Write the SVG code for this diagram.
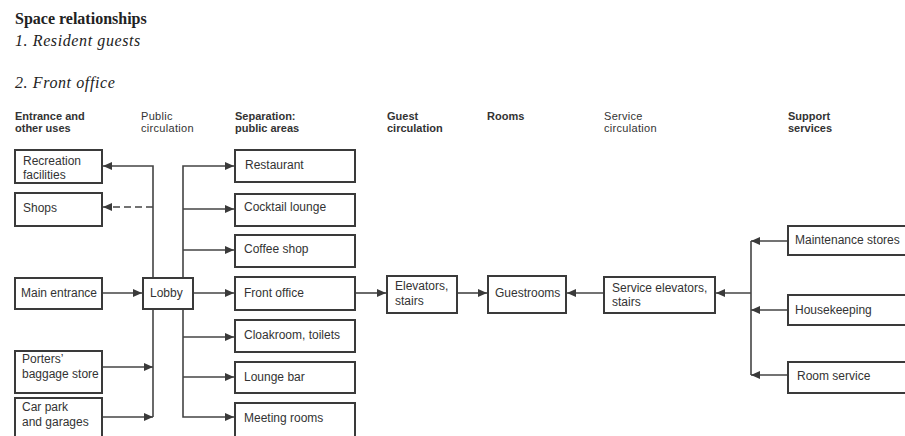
<svg xmlns="http://www.w3.org/2000/svg" width="905" height="436" viewBox="0 0 905 436">
<style>
.box{fill:#fff;stroke:#3a3a3a;stroke-width:2}
.t{font-family:"Liberation Sans",Arial,sans-serif;font-size:12px;fill:#333}
.h{font-family:"Liberation Sans",Arial,sans-serif;font-size:11px;letter-spacing:0.3px;fill:#333}
.hb{font-family:"Liberation Sans",Arial,sans-serif;font-size:11px;font-weight:bold;fill:#333}
.ln{fill:none;stroke:#444;stroke-width:1.6}
.title{font-family:"Liberation Serif","Times New Roman",serif;fill:#222}
</style>
<defs>
<marker id="ah" markerUnits="userSpaceOnUse" markerWidth="9" markerHeight="8" refX="9" refY="4" orient="auto">
<path d="M0,0 L9,4 L0,8 z" fill="#3a3a3a"/>
</marker>
</defs>
<rect width="905" height="436" fill="#fff"/>
<g id="titles">
<text class="title" x="15" y="24" font-size="16" font-weight="bold">Space relationships</text>
<text class="title" x="15" y="46" font-size="16" font-style="italic" letter-spacing="0.6">1.  Resident guests</text>
<text class="title" x="15" y="88" font-size="16" font-style="italic" letter-spacing="0.6">2.  Front office</text>
</g>
<g id="headers">
<text class="hb" x="15" y="120">Entrance and</text>
<text class="hb" x="15" y="132">other uses</text>
<text class="h" x="141" y="120">Public</text>
<text class="h" x="141" y="132">circulation</text>
<text class="hb" x="235" y="120">Separation:</text>
<text class="hb" x="235" y="132">public areas</text>
<text class="hb" x="387" y="120">Guest</text>
<text class="hb" x="387" y="132">circulation</text>
<text class="hb" x="487" y="120">Rooms</text>
<text class="h" x="604" y="120">Service</text>
<text class="h" x="604" y="132">circulation</text>
<text class="hb" x="788" y="120">Support</text>
<text class="hb" x="788" y="132">services</text>
</g>
<g id="connectors">
<path class="ln" d="M153,278 V166 H103" marker-end="url(#ah)"/>
<path class="ln" d="M153,207 H103" stroke-dasharray="7,4" marker-end="url(#ah)"/>
<path class="ln" d="M183,278 V166 H234" marker-end="url(#ah)"/>
<path class="ln" d="M183,209 H234" marker-end="url(#ah)"/>
<path class="ln" d="M183,250 H234" marker-end="url(#ah)"/>
<path class="ln" d="M103,293 H142" marker-end="url(#ah)"/>
<path class="ln" d="M193,293 H234" marker-end="url(#ah)"/>
<path class="ln" d="M183,309 V417 H234" marker-end="url(#ah)"/>
<path class="ln" d="M183,337 H234" marker-end="url(#ah)"/>
<path class="ln" d="M183,377 H234" marker-end="url(#ah)"/>
<path class="ln" d="M153,309 V417"/>
<path class="ln" d="M103,367 H153" marker-end="url(#ah)"/>
<path class="ln" d="M103,417 H153" marker-end="url(#ah)"/>
<path class="ln" d="M356,293 H386" marker-end="url(#ah)"/>
<path class="ln" d="M458,293 H487" marker-end="url(#ah)"/>
<path class="ln" d="M603,293 H567" marker-end="url(#ah)"/>
<path class="ln" d="M751,293 H716" marker-end="url(#ah)"/>
<path class="ln" d="M751,241 V375"/>
<path class="ln" d="M787,241 H751" marker-end="url(#ah)"/>
<path class="ln" d="M787,310 H751" marker-end="url(#ah)"/>
<path class="ln" d="M787,375 H751" marker-end="url(#ah)"/>
</g>
<g id="recreation"><rect class="box" x="15" y="150" width="87" height="33"/><text class="t" x="23" y="165">Recreation</text><text class="t" x="23" y="179">facilities</text></g>
<g id="shops"><rect class="box" x="15" y="193" width="87" height="33"/><text class="t" x="23" y="212">Shops</text></g>
<g id="main-entrance"><rect class="box" x="15" y="278" width="87" height="31"/><text class="t" x="21" y="297">Main entrance</text></g>
<g id="lobby"><rect class="box" x="143" y="278" width="50" height="31"/><text class="t" x="150" y="297">Lobby</text></g>
<g id="porters"><rect class="box" x="15" y="351" width="87" height="42"/><text class="t" x="22" y="363">Porters’</text><text class="t" x="22" y="378">baggage store</text></g>
<g id="car-park"><rect class="box" x="15" y="398" width="87" height="44"/><text class="t" x="22" y="411">Car park</text><text class="t" x="22" y="426">and garages</text></g>
<g id="restaurant"><rect class="box" x="235" y="150" width="120" height="32"/><text class="t" x="245" y="169">Restaurant</text></g>
<g id="cocktail"><rect class="box" x="235" y="194" width="120" height="32"/><text class="t" x="244" y="211">Cocktail lounge</text></g>
<g id="coffee"><rect class="box" x="235" y="235" width="120" height="32"/><text class="t" x="244" y="253">Coffee shop</text></g>
<g id="front-office"><rect class="box" x="235" y="277" width="120" height="33"/><text class="t" x="244" y="297">Front office</text></g>
<g id="cloakroom"><rect class="box" x="235" y="320" width="120" height="32"/><text class="t" x="244" y="339">Cloakroom, toilets</text></g>
<g id="lounge-bar"><rect class="box" x="235" y="362" width="120" height="31"/><text class="t" x="244" y="381">Lounge bar</text></g>
<g id="meeting"><rect class="box" x="235" y="403" width="120" height="40"/><text class="t" x="244" y="422">Meeting rooms</text></g>
<g id="elevators"><rect class="box" x="387" y="276" width="70" height="37"/><text class="t" x="395" y="290">Elevators,</text><text class="t" x="395" y="305">stairs</text></g>
<g id="guestrooms"><rect class="box" x="488" y="276" width="78" height="37"/><text class="t" x="495" y="297">Guestrooms</text></g>
<g id="service-elevators"><rect class="box" x="604" y="277" width="111" height="36"/><text class="t" x="612" y="292">Service elevators,</text><text class="t" x="612" y="306">stairs</text></g>
<g id="maintenance"><rect class="box" x="788" y="226" width="125" height="29"/><text class="t" x="795" y="244">Maintenance stores</text></g>
<g id="housekeeping"><rect class="box" x="788" y="295" width="125" height="30"/><text class="t" x="795" y="314">Housekeeping</text></g>
<g id="room-service"><rect class="box" x="788" y="362" width="125" height="31"/><text class="t" x="797" y="380">Room  service</text></g>
</svg>
